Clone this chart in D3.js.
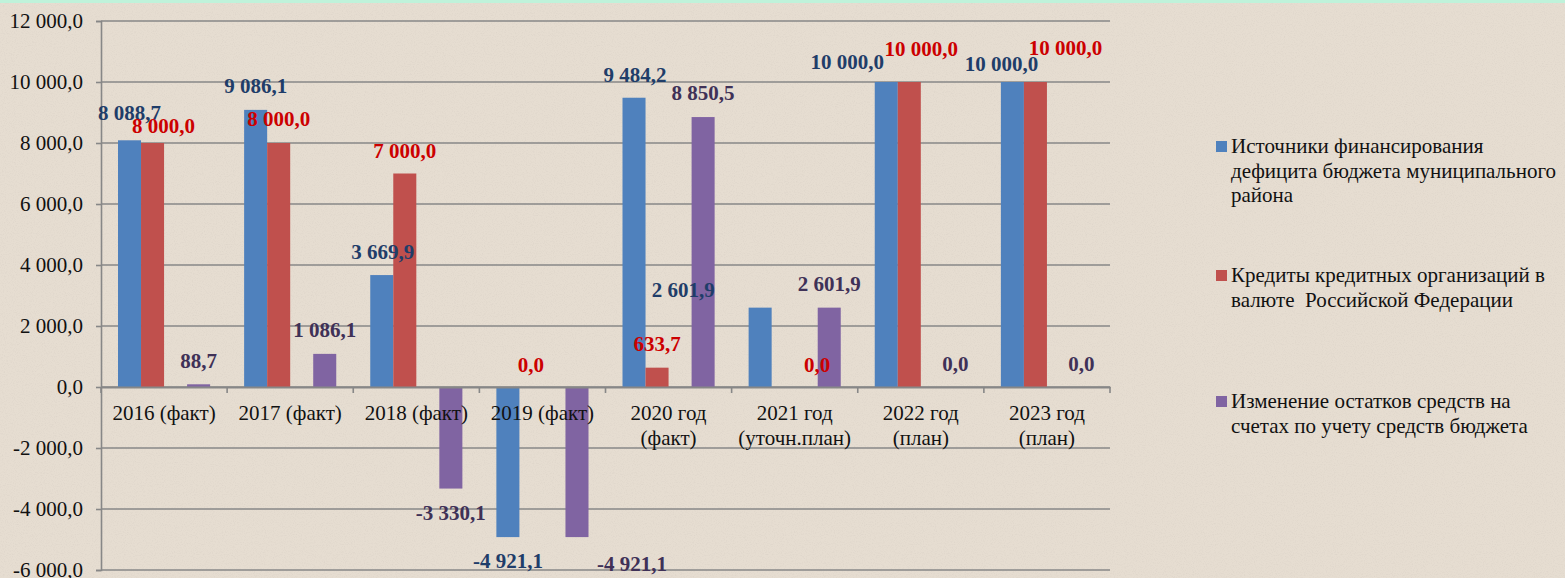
<!DOCTYPE html>
<html>
<head>
<meta charset="utf-8">
<script src="https://cdn.jsdelivr.net/npm/d3@7"></script>
<style>
  html, body { margin: 0; padding: 0; background: #e6ddd1; }
  svg { display: block; }
  text { font-family: "Liberation Serif", "DejaVu Serif", serif; }
</style>
</head>
<body>
<svg id="chart" width="1565" height="578"></svg>
<script>
// ---- data ----
const categories = [
  ["2016 (факт)"], ["2017 (факт)"], ["2018 (факт)"], ["2019 (факт)"],
  ["2020 год", "(факт)"], ["2021 год", "(уточн.план)"], ["2022 год", "(план)"], ["2023 год", "(план)"]
];
const seriesNames = [
  ["Источники финансирования", "дефицита бюджета муниципального", "района"],
  ["Кредиты кредитных организаций в", "валюте  Российской Федерации"],
  ["Изменение остатков средств на", "счетах по учету средств бюджета"]
];
const sourcesValues = [8088.7, 9086.1, 3669.9, -4921.1, 9484.2, 2601.9, 10000.0, 10000.0];
const creditValues  = [8000.0, 8000.0, 7000.0, 0.0, 633.7, 0.0, 10000.0, 10000.0];
const balanceValues = [88.7, 1086.1, -3330.1, -4921.1, 8850.5, 2601.9, 0.0, 0.0];
const yTicks = [-6000, -4000, -2000, 0, 2000, 4000, 6000, 8000, 10000, 12000];

// ---- styles (label offsets in px relative to bar centre / value) ----
const barColors   = ["#4f81bd", "#c0504d", "#8064a2"];
const labelColors = ["#1f3d69", "#cc0000", "#3f3157"];
const labelOffsets = [
  [[0,-20],[0,-17],[1,-16],[0,31],[1,-16],[-77,-11],[-39,-13],[-11,-11]],
  [[11,-10],[0,-17],[0,-16],[0,-15],[0,-17],[34,-15],[12,-26],[30,-27]],
  [[0,-16],[0,-17],[0,31],[55,34],[0,-17],[0,-17],[0,-16],[0,-16]]
];
const slots = ["s0", "s1", "gap", "s2"];
const seriesSlots = ["s0", "s1", "s2"];
const allSeries = [sourcesValues, creditValues, balanceValues];

const svg = d3.select("#chart");
const margin = {left: 101, right: 1110, top: 21, bottom: 570};

// parchment background with subtle texture
const defs = svg.append("defs");
const flt = defs.append("filter").attr("id", "paper").attr("x", 0).attr("y", 0).attr("width", "100%").attr("height", "100%");
flt.append("feTurbulence").attr("type", "fractalNoise").attr("baseFrequency", 0.9).attr("numOctaves", 2).attr("seed", 3).attr("result", "n");
flt.append("feColorMatrix").attr("in", "n").attr("type", "matrix")
  .attr("values", "0 0 0 0 0.55  0 0 0 0 0.5  0 0 0 0 0.45  0 0 0 -1.4 0.75");
svg.append("rect").attr("x", 0).attr("y", 0).attr("width", 1565).attr("height", 578).attr("fill", "#e6ddd1");
svg.append("rect").attr("x", 0).attr("y", 0).attr("width", 1565).attr("height", 578).attr("filter", "url(#paper)").attr("opacity", 0.35);
svg.append("rect").attr("x", 0).attr("y", 0).attr("width", 1565).attr("height", 3).attr("fill", "#bff2da");

const x = d3.scaleBand().domain(d3.range(categories.length)).range([margin.left, margin.right]).padding(0);
const xs = d3.scaleBand().domain(slots).range([17, x.bandwidth() - 17]).padding(0);
const y = d3.scaleLinear().domain([-6000, 12000]).range([margin.bottom, margin.top]);

const fmt = v => d3.format(",.1f")(v)
  .replace(/,/g, " ").replace(".", ",").replace("\u2212", "-");

// gridlines
svg.append("g").selectAll("line").data(yTicks).join("line")
  .attr("x1", margin.left).attr("x2", margin.right)
  .attr("y1", d => y(d)).attr("y2", d => y(d))
  .attr("stroke", "#878787").attr("stroke-width", 1.6);

// y axis
const yAxis = d3.axisLeft(y).tickValues(yTicks).tickSize(5).tickPadding(13)
  .tickFormat(d => fmt(d));
const gy = svg.append("g").attr("transform", `translate(${margin.left},0)`).call(yAxis);
gy.attr("font-family", null);
gy.select(".domain").attr("stroke", "#878787").attr("stroke-width", 1.6);
gy.selectAll(".tick line").attr("stroke", "#878787").attr("stroke-width", 1.6);
gy.selectAll(".tick text").attr("font-size", 21).attr("fill", "#111");

// bars
allSeries.forEach((vals, si) => {
  svg.append("g").selectAll("rect").data(vals).join("rect")
    .attr("x", (d, i) => x(i) + xs(seriesSlots[si]))
    .attr("width", xs.bandwidth())
    .attr("y", d => Math.min(y(d), y(0)))
    .attr("height", d => Math.abs(y(d) - y(0)))
    .attr("fill", barColors[si]);
});

// x axis at zero
const xAxis = d3.axisBottom(x).tickSize(0).tickFormat("");
const gx = svg.append("g").attr("transform", `translate(0,${y(0)})`).call(xAxis);
gx.select(".domain").attr("stroke", "#878787").attr("stroke-width", 1.8);
gx.selectAll(".tick").remove();
svg.append("g").selectAll("line").data(d3.range(categories.length + 1)).join("line")
  .attr("x1", i => margin.left + i * x.step()).attr("x2", i => margin.left + i * x.step())
  .attr("y1", y(0)).attr("y2", y(0) + 6)
  .attr("stroke", "#878787").attr("stroke-width", 1.6);

// category labels
const cat = svg.append("g").selectAll("text").data(categories).join("text")
  .attr("text-anchor", "middle").attr("font-size", 21).attr("fill", "#111")
  .attr("x", (d, i) => x(i) + x.bandwidth() / 2)
  .attr("y", y(0) + 33);
cat.selectAll("tspan").data(d => d).join("tspan")
  .attr("x", function () { return this.parentNode.getAttribute("x"); })
  .attr("dy", (d, j) => j === 0 ? 0 : 25)
  .text(d => d);

// data labels
allSeries.forEach((vals, si) => {
  svg.append("g").selectAll("text").data(vals).join("text")
    .attr("text-anchor", "middle").attr("font-size", 21).attr("font-weight", "bold")
    .attr("fill", labelColors[si])
    .attr("x", (d, i) => x(i) + xs(seriesSlots[si]) + xs.bandwidth() / 2 + labelOffsets[si][i][0])
    .attr("y", (d, i) => y(d) + labelOffsets[si][i][1])
    .text(d => fmt(d));
});

// legend
const legendTops = [153, 282, 408];
const leg = svg.append("g").selectAll("g").data(seriesNames).join("g");
leg.append("rect")
  .attr("x", 1216).attr("y", (d, i) => legendTops[i] - 12)
  .attr("width", 11).attr("height", 11)
  .attr("fill", (d, i) => barColors[i]);
leg.append("text")
  .attr("x", 1231).attr("y", (d, i) => legendTops[i])
  .attr("font-size", 21).attr("fill", "#111")
  .selectAll("tspan").data(d => d).join("tspan")
  .attr("x", 1231).attr("dy", (d, j) => j === 0 ? 0 : 24.5)
  .style("white-space", "pre")
  .text(d => d);
</script>
</body>
</html>
